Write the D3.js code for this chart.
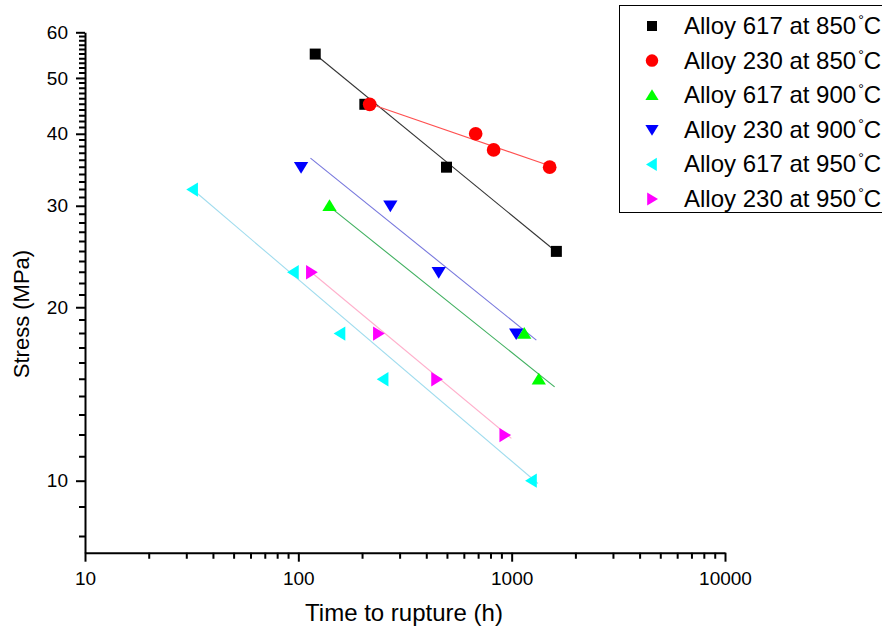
<!DOCTYPE html>
<html>
<head>
<meta charset="utf-8">
<script src="https://cdn.jsdelivr.net/npm/d3@7"></script>
<style>
  html, body { margin: 0; padding: 0; background: #fff; }
  svg { display: block; font-family: "Liberation Sans", Arial, sans-serif; }
</style>
</head>
<body>
<svg id="chart" width="882" height="630"></svg>
<script>
// ---- Data ----
const seriesNames = ["Alloy 617 at 850", "Alloy 230 at 850", "Alloy 617 at 900",
                     "Alloy 230 at 900", "Alloy 617 at 950", "Alloy 230 at 950"];
const time617_850   = [120, 205, 495, 1620];
const stress617_850 = [55, 45, 35, 25];
const time230_850   = [216, 678, 823, 1507];
const stress230_850 = [45, 40, 37.5, 35];
const time617_900   = [140, 1145, 1340];
const stress617_900 = [30, 18, 15];
const time230_900   = [103, 270, 455, 1050];
const stress230_900 = [35, 30, 23, 18];
const time617_950   = [32, 95, 157, 250, 1240];
const stress617_950 = [32, 23, 18, 15, 10];
const time230_950   = [115, 237, 444, 927];
const stress230_950 = [23, 18, 15, 12];

// Fitted trend lines (start / end)
const fitTimeStart   = [121, 223, 140, 114, 32.2, 115];
const fitTimeEnd     = [1619, 1556, 1590, 1305, 1328, 997];
const fitStressStart = [54.8, 44.9, 29.9, 36.3, 31.95, 23.0];
const fitStressEnd   = [24.96, 35.06, 14.55, 17.54, 9.89, 11.84];

const xTickValues = [10, 100, 1000, 10000];
const yTickValues = [10, 20, 30, 40, 50, 60];
const xMinorTicks = [20, 30, 40, 50, 60, 70, 80, 90, 200, 300, 400, 500, 600, 700, 800, 900,
                     2000, 3000, 4000, 5000, 6000, 7000, 8000, 9000];
const yMinorTicks = [8, 9, 11, 12, 13, 14, 15, 16, 17, 18, 19, 21, 22, 23, 24, 25, 26, 27, 28, 29,
                     31, 32, 33, 34, 35, 36, 37, 38, 39, 41, 42, 43, 44, 45, 46, 47, 48, 49,
                     51, 52, 53, 54, 55, 56, 57, 58, 59];

// ---- Styling ----
const markerColors = ["#000000", "#ff0000", "#00ff00", "#0000ff", "#00ffff", "#ff00ff"];
const lineColors   = ["#333333", "#ff5050", "#40b060", "#7878dd", "#a0dcee", "#ffb0cc"];
const markerShapes = ["square", "circle", "up", "down", "left", "right"];

const times = [time617_850, time230_850, time617_900, time230_900, time617_950, time230_950];
const stresses = [stress617_850, stress230_850, stress617_900, stress230_900, stress617_950, stress230_950];

const svg = d3.select("#chart");
const x = d3.scaleLog().domain([10, 10000]).range([85, 725]);
const y = d3.scaleLog().domain([7.5, 60]).range([552.7, 32.3]);

function markerPath(shape, s) {
  const h = s / 2;
  switch (shape) {
    case "square": return `M${-h},${-h}H${h}V${h}H${-h}Z`;
    case "circle": return d3.symbol(d3.symbolCircle, Math.PI * h * h * 1.3)();
    case "up":    return `M0,${-h}L${h * 1.1},${h * 0.8}L${-h * 1.1},${h * 0.8}Z`;
    case "down":  return `M0,${h}L${h * 1.1},${-h * 0.8}L${-h * 1.1},${-h * 0.8}Z`;
    case "left":  return `M${-h},0L${h * 0.8},${-h * 1.1}L${h * 0.8},${h * 1.1}Z`;
    case "right": return `M${h},0L${-h * 0.8},${-h * 1.1}L${-h * 0.8},${h * 1.1}Z`;
  }
}

const FONT = "'Liberation Sans', Arial, sans-serif";

// ---- Axes ----
const x0 = 85, y0 = 552.7;
// minor ticks (single path, positions from the scales)
svg.append("path")
  .attr("d", xMinorTicks.map(v => `M${x(v).toFixed(2)},${y0}V${y0 + 6}`).join("") +
             yMinorTicks.map(v => `M${x0},${y(v).toFixed(2)}H${x0 - 6}`).join(""))
  .attr("fill", "none").attr("stroke", "#000").attr("stroke-width", 2);

const xAxisG = svg.append("g").attr("transform", `translate(0,${y0})`);
xAxisG.call(d3.axisBottom(x).tickValues(xTickValues).tickSize(9).tickSizeOuter(0)
  .tickFormat(d3.format("d")))
  .call(g => g.selectAll("text").attr("font-size", 19).attr("fill", "#000")
    .attr("font-family", FONT).attr("dy", "1.05em"))
  .call(g => g.selectAll("line, path").attr("stroke", "#000").attr("stroke-width", 2));

const yAxisG = svg.append("g").attr("transform", `translate(${x0},0)`);
yAxisG.call(d3.axisLeft(y).tickValues(yTickValues).tickSize(9).tickSizeOuter(0)
  .tickFormat(d3.format("d")))
  .call(g => g.selectAll("text").attr("font-size", 19).attr("fill", "#000")
    .attr("font-family", FONT).attr("x", -17))
  .call(g => g.selectAll("line, path").attr("stroke", "#000").attr("stroke-width", 2));

// Axis titles
svg.append("text").attr("x", 404).attr("y", 621).attr("text-anchor", "middle")
  .attr("font-size", 24).text("Time to rupture (h)");
svg.append("text").attr("transform", "translate(29,314) rotate(-90)").attr("text-anchor", "middle")
  .attr("font-size", 22).text("Stress (MPa)");

// ---- Fit lines ----
const plot = svg.append("g");
seriesNames.forEach((name, i) => {
  plot.append("line")
    .attr("x1", x(fitTimeStart[i])).attr("y1", y(fitStressStart[i]))
    .attr("x2", x(fitTimeEnd[i])).attr("y2", y(fitStressEnd[i]))
    .attr("stroke", lineColors[i]).attr("stroke-width", 1.1);
});

// ---- Markers ----
const markerSize = [11, 12, 13, 13, 13, 13];
seriesNames.forEach((name, i) => {
  plot.append("g").selectAll("path")
    .data(times[i].map((t, j) => ({ t, s: stresses[i][j] })))
    .join("path")
    .attr("transform", d => `translate(${x(d.t)},${y(d.s)})`)
    .attr("d", markerPath(markerShapes[i], markerSize[i]))
    .attr("fill", markerColors[i]);
});

// ---- Legend ----
const legend = svg.append("g");
legend.append("rect").attr("x", 619.5).attr("y", 5.5).attr("width", 300).attr("height", 207)
  .attr("fill", "#fff").attr("stroke", "#000").attr("stroke-width", 1);
seriesNames.forEach((name, i) => {
  const cy = 26 + i * 34.6;
  legend.append("path").attr("transform", `translate(652,${cy})`)
    .attr("d", markerPath(markerShapes[i], markerSize[i] - 1)).attr("fill", markerColors[i]);
  const t = legend.append("text").attr("x", 684).attr("y", cy + 8).attr("font-size", 24);
  t.append("tspan").text(name);
  t.append("tspan").attr("font-size", 14).attr("dx", 2).attr("dy", -9).text("°");
  t.append("tspan").attr("dy", 9).text("C");
});
</script>
</body>
</html>
